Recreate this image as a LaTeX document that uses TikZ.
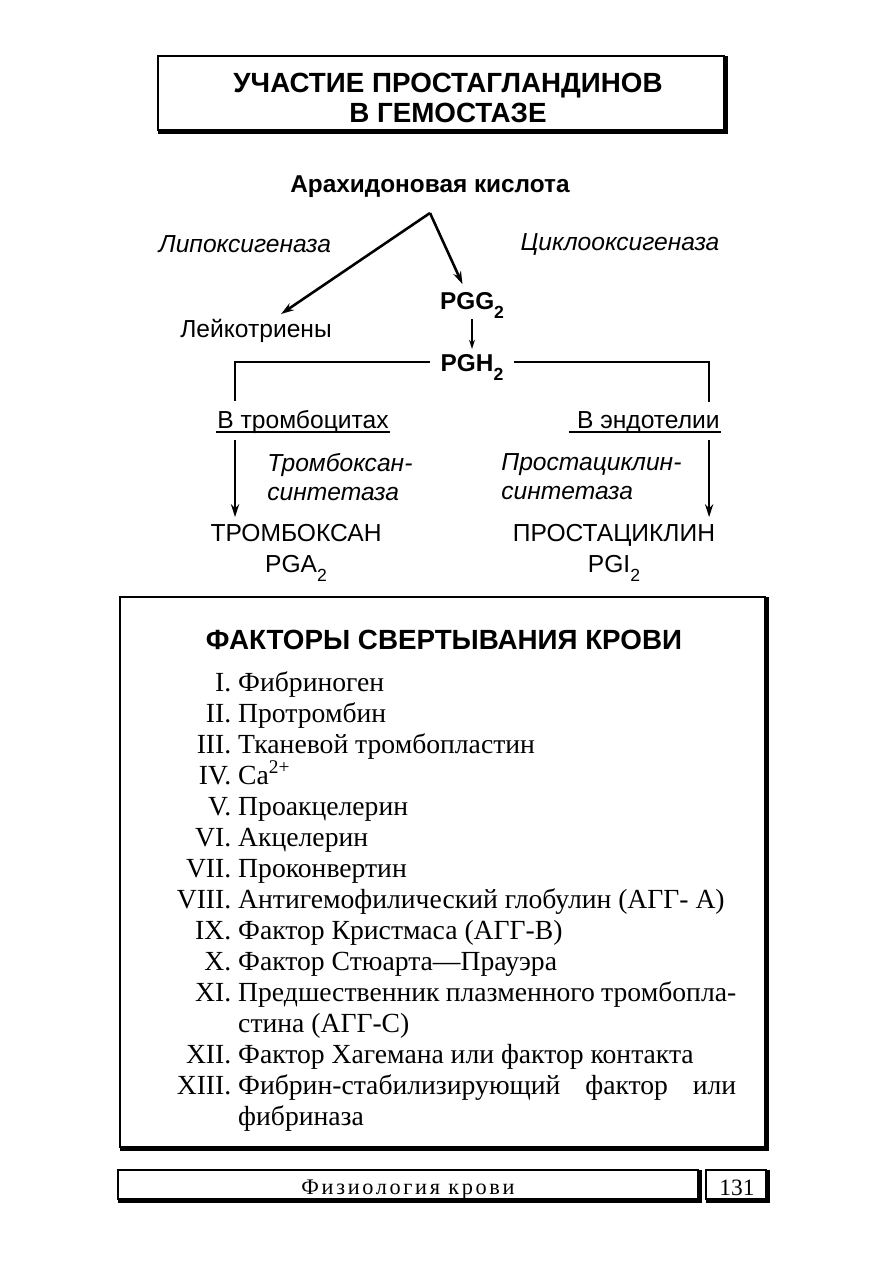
\documentclass[tikz,border=0pt]{standalone}
\usepackage{fontspec}
\setmainfont{Liberation Serif}
\setsansfont{Liberation Sans}
\usetikzlibrary{arrows.meta, positioning, calc}

\newcommand\headfont{\sffamily\bfseries\fontsize{23.7}{25.6}\selectfont}
\newcommand\bchemfont{\sffamily\bfseries\fontsize{20.8}{26.5}\selectfont}
\newcommand\chemfont{\sffamily\fontsize{21}{26.5}\selectfont}
\newcommand\enzfont{\sffamily\itshape\fontsize{21}{24.7}\selectfont}
\newcommand\listfont{\fontsize{23.6}{26.5}\selectfont}
\newcommand\footfont{\fontsize{19}{20}\selectfont\addfontfeature{LetterSpace=12}}
\newcommand\lowidx[1]{\raisebox{-0.7ex}{\fontsize{15}{15}\selectfont #1}}

\begin{document}
\begin{tikzpicture}[x=0.03cm, y=-0.03cm,
    lbl/.style={inner sep=1pt, font=\chemfont, align=center},
    bchem/.style={inner sep=1pt, font=\bchemfont},
    enz/.style={inner sep=1pt, font=\enzfont, align=left, anchor=west},
    boxframe/.style={line width=1.5pt},
    heavy/.style={line width=4pt},
    uline/.style={line width=1.1pt},
    arr/.style={-{Stealth[length=11pt, width=7pt]}, line width=2.2pt},
    thinarr/.style={-{Stealth[length=8pt, width=5pt]}, line width=1.2pt},
    branch/.style={line width=1.5pt},
    fact/.style={anchor=base west, inner sep=0pt, font=\listfont}
  ]
  \useasboundingbox (0,0) rectangle (893,1263);

  % title frame
  \draw[boxframe] (158,56) rectangle (724,130);
  \draw[heavy] (726,56) -- (726,132) -- (158,132);
  \node[font=\headfont, align=center] (title) at (448,98)
    {УЧАСТИЕ ПРОСТАГЛАНДИНОВ\\В ГЕМОСТАЗЕ};

  % prostaglandin scheme
  \node[bchem] (acid) at (430,187) {Арахидоновая кислота};
  \coordinate (apex) at (430,213);
  \node[enz, anchor=center] (lipox)  at (245,244) {Липоксигеназа};
  \node[enz, anchor=center] (cyclox) at (620,244) {Циклооксигеназа};
  \node[lbl] (leuko) at (256,331) {Лейкотриены};
  \node[bchem] (pgg) at (472,305) {PGG\lowidx{2}};
  \node[bchem] (pgh) at (472,367) {PGH\lowidx{2}};
  \node[lbl, anchor=base] (plate) at (303,428) {В тромбоцитах};
  \node[lbl, anchor=base] (endo)  at (645,428) {\ В эндотелии};
  \draw[uline] ($(plate.base west)+(0,4)$) -- ($(plate.base east)+(0,4)$);
  \draw[uline] ($(endo.base west)+(0,4)$) -- ($(endo.base east)+(0,4)$);
  \node[enz] (txsyn) at (266,477) {Тромбоксан-\\синтетаза};
  \node[enz] (pcsyn) at (500,477) {Простациклин-\\синтетаза};
  \node[lbl] (thromb) at (296,553) {ТРОМБОКСАН\\PGA\lowidx{2}};
  \node[lbl] (prost)  at (614,553) {ПРОСТАЦИКЛИН\\PGI\lowidx{2}};

  \draw[arr, shorten >=6pt] (apex) -- (leuko);
  \draw[arr, shorten >=6pt] (apex) -- (pgg);
  \draw[thinarr, shorten >=3pt] (pgg) -- (pgh);
  \coordinate (ltop) at ($(plate.north west)+(19,-8)$);
  \coordinate (rtop) at ($(endo.north east)+(-12,-8)$);
  \draw[branch, shorten <=8pt] ($(pgh.west)+(0,-5)$) -| (ltop);
  \draw[branch, shorten <=8pt] ($(pgh.east)+(0,-5)$) -| (rtop);
  \coordinate (lfoot) at ($(plate.base west)+(19,12)$);
  \coordinate (rfoot) at ($(endo.base east)+(-12,12)$);
  \draw[arr, shorten >=5pt] (lfoot) -- (lfoot |- thromb.north);
  \draw[arr, shorten >=5pt] (rfoot) -- (rfoot |- prost.north);

  % clotting factors
  \draw[boxframe] (120,597) rectangle (765,1147);
  \draw[heavy] (767,597) -- (767,1149) -- (120,1149);
  \node[font=\headfont] (facthead) at (444,640) {ФАКТОРЫ СВЕРТЫВАНИЯ КРОВИ};
  \foreach \num/\yy/\txt in {
      I/691/Фибриноген,
      II/722/Протромбин,
      III/753/Тканевой тромбопластин,
      IV/784/Ca\textsuperscript{2+},
      V/815/Проакцелерин,
      VI/846/Акцелерин,
      VII/877/Проконвертин,
      VIII/908/Антигемофилический глобулин (АГГ- А),
      IX/939/Фактор Кристмаса (АГГ-В),
      X/970/Фактор Стюарта---Прауэра,
      XII/1063/Фактор Хагемана или фактор контакта}
    \node[fact] (f-\num) at (238,\yy) {\llap{\num.\ }\txt};
  \node[fact] (f-XI) at (238,1001)
    {\llap{XI.\ }\makebox[14.94cm][s]{Предшественник плазменного тромбопла-}};
  \node[fact] (f-XIb) at (238,1032) {стина (АГГ-С)};
  \node[fact] (f-XIII) at (238,1094)
    {\llap{XIII.\ }\makebox[14.94cm][s]{Фибрин-стабилизирующий фактор или}};
  \node[fact] (f-XIIIb) at (238,1125) {фибриназа};

  % footer
  \draw[boxframe] (118,1170) rectangle (698,1199);
  \draw[heavy] (700,1170) -- (700,1201) -- (118,1201);
  \node[font=\footfont] (chapter) at (408,1190) {Физиология крови};
  \draw[boxframe] (706,1170) rectangle (766,1199);
  \draw[heavy] (768,1170) -- (768,1201) -- (706,1201);
  \node[font=\fontsize{20}{22}\selectfont] (page) at (737,1188) {131};
\end{tikzpicture}
\end{document}
